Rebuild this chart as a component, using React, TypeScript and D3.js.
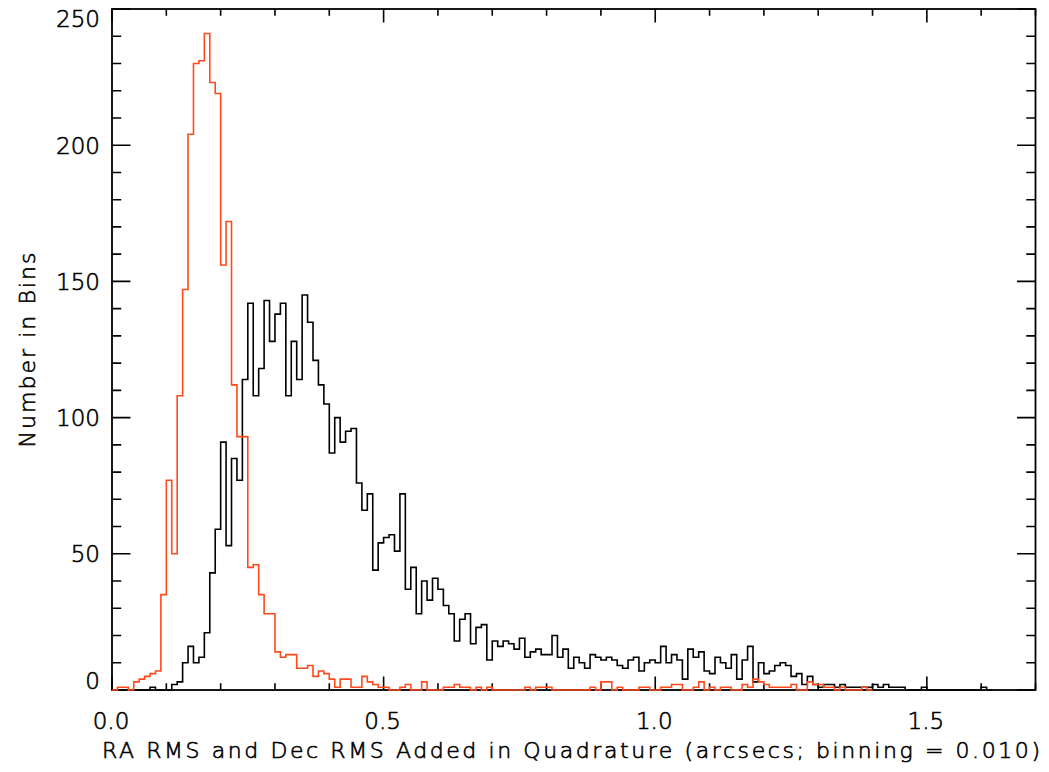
import React from "react";
import * as d3 from "d3";

// Histogram bin width along the x axis (arcsec)
const BIN_WIDTH = 0.01;

// Counts per 0.01" bin, starting at 0.00 — all sources (black)
const allCounts = [
  0, 0, 0, 0, 0, 0, 0, 1, 0, 0,
  0, 2, 3, 10, 16, 10, 12, 21, 43, 59,
  91, 53, 85, 77, 114, 142, 108, 118, 143, 128,
  138, 142, 108, 128, 114, 145, 135, 121, 112, 105,
  87, 100, 91, 95, 96, 76, 66, 72, 44, 54,
  56, 57, 51, 72, 37, 45, 28, 40, 33, 41,
  37, 31, 28, 18, 26, 28, 17, 23, 24, 11,
  18, 16, 18, 17, 15, 19, 12, 14, 15, 13,
  13, 20, 12, 15, 8, 12, 10, 8, 13, 12,
  11, 12, 11, 9, 8, 11, 12, 7, 10, 11,
  10, 16, 10, 13, 11, 4, 15, 12, 14, 7,
  6, 12, 10, 8, 13, 4, 11, 16, 3, 10,
  6, 7, 9, 10, 9, 5, 6, 2, 5, 2,
  1, 2, 2, 1, 2, 1, 1, 1, 1, 1,
  2, 1, 2, 1, 1, 1, 0, 0, 0, 1,
  0, 0, 0, 0, 0, 0, 0, 0, 0, 0,
  1, 0,
];

// Counts per 0.01" bin, starting at 0.00 — selected subset (red)
const subsetCounts = [
  0, 1, 1, 0, 3, 4, 5, 6, 7, 35,
  77, 50, 108, 147, 204, 230, 231, 241, 223, 219,
  156, 172, 112, 93, 93, 45, 46, 35, 28, 28,
  14, 12, 13, 13, 8, 8, 9, 5, 7, 6,
  4, 1, 4, 4, 1, 1, 5, 3, 2, 1,
  1, 0, 0, 1, 2, 0, 0, 3, 0, 0,
  0, 1, 1, 2, 1, 1, 0, 1, 0, 1,
  0, 0, 0, 0, 0, 0, 1, 0, 1, 1,
  1, 0, 0, 0, 0, 0, 0, 0, 1, 0,
  3, 3, 0, 1, 0, 0, 0, 1, 1, 0,
  0, 1, 1, 2, 2, 0, 0, 1, 3, 0,
  1, 0, 1, 1, 0, 0, 2, 1, 4, 3,
  2, 1, 1, 1, 1, 2, 0, 0, 3, 2,
  2, 1, 1, 0, 1, 0, 0, 0, 1, 0,
];

const X_DOMAIN = [0, 1.7];
const Y_DOMAIN = [0, 250];
const xMajorTicks = [0.0, 0.5, 1.0, 1.5];
const xTickLabels = ["0.0", "0.5", "1.0", "1.5"];
const yMajorTicks = [0, 50, 100, 150, 200, 250];
const yTickLabels = ["0", "50", "100", "150", "200", "250"];
const xMinorStep = 0.1;
const yMinorStep = 10;

const X_TITLE = "RA RMS and Dec RMS Added in Quadrature (arcsecs; binning = 0.010)";
const Y_TITLE = "Number in Bins";

const WIDTH = 1049;
const HEIGHT = 772;
const PLOT = { left: 112, right: 1035.5, top: 9, bottom: 690 };
const FONT = "'DejaVu Sans', sans-serif";
const FONT_WEIGHT = 200;
const FONT_SIZE = 23;
const CAP = 0.73 * FONT_SIZE;

export default function App() {
  const x = d3.scaleLinear().domain(X_DOMAIN).range([PLOT.left, PLOT.right]);
  const y = d3.scaleLinear().domain(Y_DOMAIN).range([PLOT.bottom, PLOT.top]);

  const stepPath = (counts: number[]) => {
    const pts: [number, number][] = counts.map((c, i) => [i * BIN_WIDTH, c]);
    pts.push([counts.length * BIN_WIDTH, counts[counts.length - 1]]);
    return d3
      .line<[number, number]>()
      .x((d) => x(d[0]))
      .y((d) => y(d[1]))
      .curve(d3.curveStepAfter)(pts) as string;
  };

  const plotH = PLOT.bottom - PLOT.top;
  const plotW = PLOT.right - PLOT.left;
  const xMajLen = 0.02 * plotH;
  const yMajLen = 0.02 * plotW;

  const xMinor = d3.range(0, Math.round((X_DOMAIN[1] - X_DOMAIN[0]) / xMinorStep) + 1).map((i) => i * xMinorStep);
  const yMinor = d3.range(0, Math.round((Y_DOMAIN[1] - Y_DOMAIN[0]) / yMinorStep) + 1).map((i) => i * yMinorStep);

  const isMajorX = (v: number) => xMajorTicks.some((m) => Math.abs(m - v) < 1e-6);
  const isMajorY = (v: number) => yMajorTicks.some((m) => Math.abs(m - v) < 1e-6);

  const ticks: string[] = [];
  xMinor.forEach((v) => {
    const px = x(v);
    const len = isMajorX(v) ? xMajLen : xMajLen / 2;
    ticks.push(`M${px},${PLOT.bottom}V${PLOT.bottom - len}`);
    ticks.push(`M${px},${PLOT.top}V${PLOT.top + len}`);
  });
  yMinor.forEach((v) => {
    const py = y(v);
    const len = isMajorY(v) ? yMajLen : yMajLen / 2;
    ticks.push(`M${PLOT.left},${py}H${PLOT.left + len}`);
    ticks.push(`M${PLOT.right},${py}H${PLOT.right - len}`);
  });

  // Light face with a hairline outline gives the thin, even stroke of the labels
  const textStyle = { fill: "#000", stroke: "#000", strokeWidth: 0.6 };

  return (
    <svg
      width={WIDTH}
      height={HEIGHT}
      style={{ position: "absolute", left: 0, top: 0, background: "#fff" }}
      fontFamily={FONT}
      fontWeight={FONT_WEIGHT}
    >
      <rect x={0} y={0} width={WIDTH} height={HEIGHT} fill="#fff" />
      <path d={stepPath(allCounts)} fill="none" stroke="#000" strokeWidth={1.6} />
      <rect
        x={PLOT.left}
        y={PLOT.top}
        width={plotW}
        height={plotH}
        fill="none"
        stroke="#000"
        strokeWidth={1.8}
      />
      <path d={ticks.join("")} stroke="#000" strokeWidth={1.6} fill="none" />
      <path d={stepPath(subsetCounts)} fill="none" stroke="#ff4a1c" strokeWidth={1.6} />

      {yMajorTicks.map((v, i) => {
        const center = Math.min(Math.max(y(v), PLOT.top + CAP / 2 + 1), PLOT.bottom - CAP / 2 - 1);
        return (
          <text key={`yl${i}`} x={PLOT.left - 12} y={center + CAP / 2} textAnchor="end" fontSize={FONT_SIZE} {...textStyle}>
            {yTickLabels[i]}
          </text>
        );
      })}
      {xMajorTicks.map((v, i) => (
        <text key={`xl${i}`} x={x(v) - 1} y={729} textAnchor="middle" fontSize={FONT_SIZE} {...textStyle}>
          {xTickLabels[i]}
        </text>
      ))}
      <text x={102} y={758} fontSize={22} textLength={938} lengthAdjust="spacing" {...textStyle}>
        {X_TITLE}
      </text>
      <text
        transform={`translate(35,${350}) rotate(-90)`}
        textAnchor="middle"
        fontSize={22}
        textLength={195}
        lengthAdjust="spacing"
        {...textStyle}
      >
        {Y_TITLE}
      </text>
    </svg>
  );
}
